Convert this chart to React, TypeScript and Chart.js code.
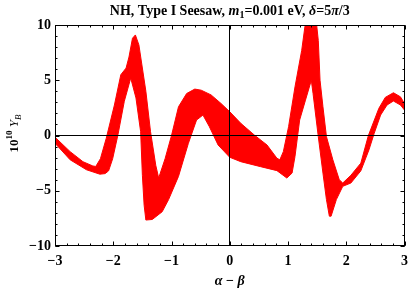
import React, { useEffect, useRef } from 'react';
import { Chart, registerables } from 'chart.js';

Chart.register(...registerables);

// Upper/outer edge of the red band, left to right
const upperX = [-3.0, -2.74, -2.52, -2.35, -2.3, -2.22, -2.12, -1.98, -1.87, -1.78, -1.73, -1.67, -1.62, -1.56, -1.44, -1.36, -1.27, -1.22, -1.11, -1.0, -0.88, -0.74, -0.6, -0.49, -0.32, -0.15, 0.0, 0.19, 0.42, 0.64, 0.81, 0.86, 0.92, 1.01, 1.12, 1.235, 1.29, 1.33, 1.4, 1.48, 1.52, 1.55, 1.6, 1.66, 1.77, 1.88, 1.94, 2.08, 2.25, 2.38, 2.56, 2.67, 2.81, 2.93, 3.0];
const upperY = [-0.15, -1.46, -2.37, -2.76, -2.8, -2.1, -0.25, 2.76, 5.5, 6.1, 7.1, 8.8, 9.1, 8.2, 4.0, 0.35, -2.7, -3.85, -2.1, 0.0, 2.6, 3.8, 4.2, 4.1, 3.67, 2.9, 2.15, 1.1, 0.05, -0.86, -2.06, -2.2, -1.46, 0.8, 4.4, 7.7, 9.85, 10.8, 11.0, 10.6, 8.6, 5.0, 2.6, -0.1, -2.2, -4.0, -4.3, -3.6, -2.5, 0.0, 2.46, 3.45, 3.87, 3.5, 2.9];

// Lower/inner edge of the red band, left to right
const lowerX = [-3.0, -2.74, -2.46, -2.23, -2.14, -2.08, -2.01, -1.92, -1.81, -1.7, -1.61, -1.53, -1.5, -1.47, -1.44, -1.33, -1.16, -1.05, -0.88, -0.71, -0.57, -0.46, -0.35, -0.2, 0.0, 0.19, 0.53, 0.81, 0.98, 1.07, 1.12, 1.2, 1.3, 1.4, 1.43, 1.52, 1.6, 1.66, 1.71, 1.74, 1.83, 1.94, 2.08, 2.25, 2.39, 2.48, 2.59, 2.7, 2.81, 2.93, 3.0];
const lowerY = [-0.7, -2.2, -3.1, -3.5, -3.45, -3.2, -2.1, 0.05, 3.1, 5.2, 3.4, 0.35, -3.6, -6.3, -7.65, -7.6, -6.9, -5.8, -3.7, -0.7, 1.4, 1.85, 0.8, -0.86, -1.97, -2.37, -2.82, -3.18, -3.85, -3.4, -1.9, 1.4, 3.2, 5.0, 3.8, -0.1, -3.4, -5.8, -7.3, -7.3, -5.8, -4.6, -4.3, -3.2, -1.3, 0.2, 1.85, 2.76, 3.12, 2.76, 2.3];

const xRange = [-3, 3];
const yRange = [-10, 10];
const xMajorStep = 1;
const xMinorStep = 0.2;
const yMajorStep = 5;
const yMinorStep = 1;

const FAMILY = '"Liberation Serif", "Times New Roman", serif';

type Run = { t: string; style?: string; size?: number; dy?: number };

function drawRuns(ctx: CanvasRenderingContext2D, runs: Run[], cx: number, baseline: number, baseSize: number) {
  const fontFor = (r: Run) => `${r.style ?? 'bold'} ${r.size ?? baseSize}px ${FAMILY}`;
  let total = 0;
  const widths: number[] = [];
  for (const r of runs) {
    ctx.font = fontFor(r);
    const w = ctx.measureText(r.t).width;
    widths.push(w);
    total += w;
  }
  let x = cx - total / 2;
  ctx.textBaseline = 'alphabetic';
  ctx.textAlign = 'left';
  runs.forEach((r, i) => {
    ctx.font = fontFor(r);
    ctx.fillText(r.t, x, baseline + (r.dy ?? 0));
    x += widths[i];
  });
}

const titleRuns: Run[] = [
  { t: 'NH, Type I Seesaw, ' },
  { t: 'm', style: 'italic bold' },
  { t: '1', size: 10, dy: 3 },
  { t: '=0.001 eV, ' },
  { t: 'δ', style: 'italic bold' },
  { t: '=5' },
  { t: 'π', style: 'italic bold' },
  { t: '/3' },
];
const yLabelRuns: Run[] = [
  { t: '10' },
  { t: '10', size: 9, dy: -6 },
  { t: ' ' },
  { t: 'Y', style: 'italic' },
  { t: 'B', style: 'italic', size: 9, dy: 3 },
];
const xLabelRuns: Run[] = [
  { t: 'α', style: 'italic bold' },
  { t: ' − ' },
  { t: 'β', style: 'italic bold' },
];

function stepValues(min: number, max: number, step: number) {
  const out: number[] = [];
  const n = Math.round((max - min) / step);
  for (let i = 0; i <= n; i++) out.push(min + i * step);
  return out;
}

const framePlugin = {
  id: 'frameTicks',
  afterDatasetsDraw(chart: any) {
    const { ctx, chartArea } = chart;
    const xs = chart.scales.x;
    const ys = chart.scales.y;
    const L = Math.round(chartArea.left) + 0.5;
    const R = Math.round(chartArea.right) - 0.5;
    const T = Math.round(chartArea.top) + 0.5;
    const B = Math.round(chartArea.bottom) - 0.5;
    ctx.save();
    ctx.strokeStyle = '#000';
    ctx.lineWidth = 1;
    ctx.beginPath();
    const tickX = (v: number, len: number) => {
      const p = Math.round(xs.getPixelForValue(v)) + 0.5;
      ctx.moveTo(p, B);
      ctx.lineTo(p, B - len);
      ctx.moveTo(p, T);
      ctx.lineTo(p, T + len);
    };
    const tickY = (v: number, len: number) => {
      const p = Math.round(ys.getPixelForValue(v)) + 0.5;
      ctx.moveTo(L, p);
      ctx.lineTo(L + len, p);
      ctx.moveTo(R, p);
      ctx.lineTo(R - len, p);
    };
    stepValues(xRange[0], xRange[1], xMinorStep).forEach((v) => tickX(v, 2));
    stepValues(xRange[0], xRange[1], xMajorStep).forEach((v) => tickX(v, 4));
    stepValues(yRange[0], yRange[1], yMinorStep).forEach((v) => tickY(v, 2));
    stepValues(yRange[0], yRange[1], yMajorStep).forEach((v) => tickY(v, 4));
    ctx.stroke();
    ctx.strokeRect(L, T, R - L, B - T);
    ctx.restore();
  },
  afterDraw(chart: any) {
    const { ctx, chartArea } = chart;
    const cx = (chartArea.left + chartArea.right) / 2;
    const cy = (chartArea.top + chartArea.bottom) / 2;
    ctx.save();
    ctx.fillStyle = '#000';
    drawRuns(ctx, titleRuns, cx, 15, 14);
    drawRuns(ctx, xLabelRuns, cx, 285, 14);
    ctx.translate(18, cy - 2);
    ctx.rotate(-Math.PI / 2);
    drawRuns(ctx, yLabelRuns, 0, 0, 13);
    ctx.restore();
  },
};

const fmt = (v: number | string) => {
  const n = Number(v);
  return n < 0 ? '−' + Math.abs(n) : String(n);
};

export default function App() {
  const ref = useRef<HTMLCanvasElement | null>(null);

  useEffect(() => {
    document.body.style.margin = '0';
    const canvas = ref.current;
    if (!canvas) return;

    const polygon = [
      ...upperX.map((x, i) => ({ x, y: upperY[i] })),
      ...lowerX.map((x, i) => ({ x, y: lowerY[i] })).reverse(),
    ];

    const tickFont = { family: FAMILY, size: 14, weight: 'bold' as const };
    const zeroColor = (c: any) => (c.tick && Math.abs(c.tick.value) < 1e-9 ? '#000' : 'rgba(0,0,0,0)');

    const chart = new Chart(canvas, {
      type: 'scatter',
      data: {
        datasets: [
          {
            data: polygon,
            showLine: true,
            fill: 'shape',
            backgroundColor: '#ff0000',
            borderColor: '#ff0000',
            borderWidth: 1,
            pointRadius: 0,
            tension: 0,
          } as any,
        ],
      },
      plugins: [framePlugin],
      options: {
        responsive: false,
        animation: false,
        devicePixelRatio: 1,
        layout: { padding: { top: 25, right: 5, left: 0, bottom: 0 } },
        plugins: { legend: { display: false }, tooltip: { enabled: false }, title: { display: false } },
        scales: {
          x: {
            type: 'linear',
            position: 'bottom',
            min: xRange[0],
            max: xRange[1],
            ticks: { stepSize: xMajorStep, font: tickFont, color: '#000', padding: 7, callback: fmt, maxRotation: 0, autoSkip: false },
            grid: { drawOnChartArea: true, drawTicks: false, tickLength: 0, color: zeroColor, lineWidth: 1, z: 1 },
            border: { display: false },
            afterFit: (s: any) => {
              s.height = 46;
            },
          },
          y: {
            type: 'linear',
            position: 'left',
            min: yRange[0],
            max: yRange[1],
            ticks: { stepSize: yMajorStep, font: tickFont, color: '#000', padding: 4, callback: fmt, autoSkip: false },
            grid: { drawOnChartArea: true, drawTicks: false, tickLength: 0, color: zeroColor, lineWidth: 1, z: 1 },
            border: { display: false },
            afterFit: (s: any) => {
              s.width = 55;
            },
          },
        } as any,
      },
    });

    return () => chart.destroy();
  }, []);

  return (
    <div style={{ width: 415, height: 292 }}>
      <canvas ref={ref} width={415} height={292} style={{ display: 'block' }} />
    </div>
  );
}
